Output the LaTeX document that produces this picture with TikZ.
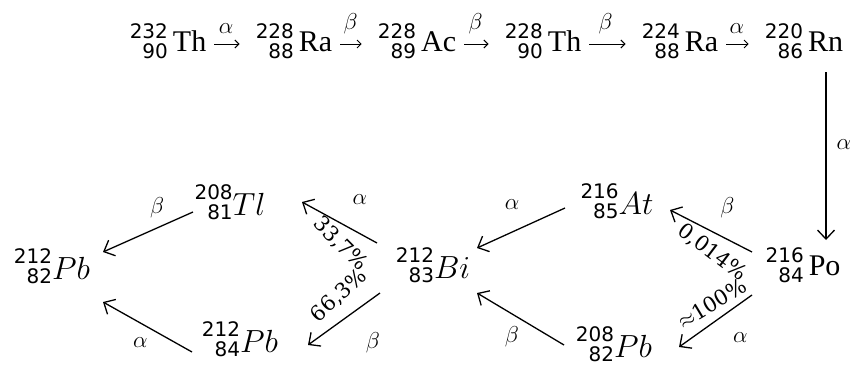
\documentclass[tikz,border=0pt]{standalone}
\usepackage{fix-cm}
\usepackage{fontspec}
\setmainfont{Liberation Serif}
\newfontfamily\digitfont{DejaVu Sans}
\newfontfamily\sharefont{DejaVu Serif}
\usetikzlibrary{arrows.meta}

% mass and charge numbers stacked, right aligned
\newcommand{\nucup}[3]{{\digitfont\fontsize{20}{20}\selectfont\raisebox{-7pt}{\begin{tabular}[b]{@{}r@{}}#1\\#2\end{tabular}}}\,#3}
\newcommand{\nucit}[3]{{\digitfont\fontsize{20}{17}\selectfont\raisebox{-4pt}{\begin{tabular}[b]{@{}r@{}}#1\\#2\end{tabular}}}{\fontsize{32}{36}\selectfont$#3$}}

\tikzset{
  nuclide/.style={inner sep=0pt, font=\fontsize{30}{34}\selectfont},
  chainarr/.style={-{Straight Barb[length=4pt,width=8pt]}, line width=1pt, shorten <=8pt, shorten >=16pt},
  decay/.style={-{Straight Barb[length=9pt,width=17pt]}, line width=1.3pt},
  greek/.style={font=\fontsize{23}{23}\selectfont, inner sep=0pt},
  share/.style={font=\sharefont\fontsize{21}{21}\selectfont, inner sep=0pt},
}

\begin{document}
\begin{tikzpicture}[x=1pt,y=-1pt]
	\useasboundingbox (0,0) rectangle (854,365);

	%top row
	\node[nuclide] (th232) at (168,44) {\nucup{232}{90}{Th}};
	\node[nuclide] (ra228) at (294,44) {\nucup{228}{88}{Ra}};
	\node[nuclide] (ac228) at (417,44) {\nucup{228}{89}{Ac}};
	\node[nuclide] (th228) at (543,44) {\nucup{228}{90}{Th}};
	\node[nuclide] (ra224) at (680,44) {\nucup{224}{88}{Ra}};
	\node[nuclide] (rn220) at (804,44) {\nucup{220}{86}{Rn}};

	\draw[chainarr] (th232) -- node[greek, pos=.4, above=10pt] {$\alpha$} (ra228);
	\draw[chainarr] (ra228) -- node[greek, pos=.4, above=10pt] {$\beta$} (ac228);
	\draw[chainarr] (ac228) -- node[greek, pos=.4, above=10pt] {$\beta$} (th228);
	\draw[chainarr] (th228) -- node[greek, pos=.4, above=10pt] {$\beta$} (ra224);
	\draw[chainarr] (ra224) -- node[greek, pos=.4, above=10pt] {$\alpha$} (rn220);

	%branches
	\node[nuclide] (po216) at (803,268) {\nucup{216}{84}{Po}};
	\node[nuclide] (at216) at (617,204) {\nucit{216}{85}{At}};
	\node[nuclide] (pb208) at (614,347) {\nucit{208}{82}{Pb}};
	\node[nuclide] (bi212) at (433,268) {\nucit{212}{83}{Bi}};
	\node[nuclide] (tl208) at (230,205) {\nucit{208}{81}{Tl}};
	\node[nuclide] (pbmid) at (240,342) {\nucit{212}{84}{Pb}};
	\node[nuclide] (pbend) at (52,269) {\nucit{212}{82}{Pb}};

	\draw[decay] ([shift={(22,28)}]rn220.center) -- node[greek, pos=.43, right=10pt] {$\alpha$} ([shift={(23,-28)}]po216.center);

	\draw[decay] ([shift={(-51,-16)}]po216.center) -- node[share, pos=.49, yshift=-21pt, rotate=-37] {0,014\%}
		node[greek, pos=.3, yshift=32pt] {$\beta$} ([shift={(53,6)}]at216.center);
	\draw[decay] ([shift={(-51,27)}]po216.center) -- node[share, pos=.55, yshift=20pt, rotate=31] {$\approx$100\%}
		node[greek, pos=.16, yshift=-34pt] {$\alpha$} ([shift={(65,0)}]pb208.center);
	\draw[decay] ([shift={(-52,4)}]at216.center) -- node[greek, pos=.6, yshift=27pt] {$\alpha$} ([shift={(44,-20)}]bi212.center);
	\draw[decay] ([shift={(-50,-2)}]pb208.center) -- node[greek, pos=.6, yshift=-23pt] {$\beta$} ([shift={(44,25)}]bi212.center);

	\draw[decay] ([shift={(-56,-25)}]bi212.center) -- node[share, pos=.49, yshift=-21pt, rotate=-45] {33,7\%}
		node[greek, pos=.23, yshift=34pt] {$\alpha$} ([shift={(72,-3)}]tl208.center);
	\draw[decay] ([shift={(-53,25)}]bi212.center) -- node[share, pos=.57, yshift=27pt, rotate=43] {66,3\%}
		node[greek, pos=.1, yshift=-45pt] {$\beta$} ([shift={(68,3)}]pbmid.center);

	\draw[decay] ([shift={(-37,7)}]tl208.center) -- node[greek, pos=.4, yshift=20pt] {$\beta$} ([shift={(51,-17)}]pbend.center);
	\draw[decay] ([shift={(-48,10)}]pbmid.center) -- node[greek, pos=.58, yshift=-20pt] {$\alpha$} ([shift={(51,33)}]pbend.center);
\end{tikzpicture}
\end{document}
